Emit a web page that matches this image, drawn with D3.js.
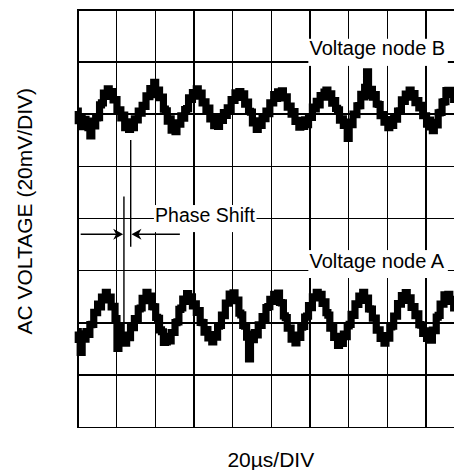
<!DOCTYPE html>
<html>
<head>
<meta charset="utf-8">
<script src="https://cdn.jsdelivr.net/npm/d3@7"></script>
<style>
  html, body { margin: 0; padding: 0; background: #fff; }
  svg { display: block; }
  text { font-family: "Liberation Sans", Arial, Helvetica, sans-serif; fill: #000; }
</style>
</head>
<body>
<svg id="chart" width="454" height="470"></svg>
<script>
// ---------- data (time in µs, voltage in mV) ----------
const xDivisions = [0, 20, 40, 60, 80, 100, 120, 140, 160, 180, 200];   // 20 µs/DIV
const yDivisions = [-80, -60, -40, -20, 0, 20, 40, 60, 80];             // 20 mV/DIV
const sampleStepUs = 1;

const nodeB = [41,37.3,38.3,35,37.8,35.4,34.6,31.5,
  37.1,35.3,38.4,38.5,43.4,44.1,47.9,46.6,49.5,
  46.7,48.5,45.3,45.4,41.2,41.5,38.4,39.4,34.6,36.9,34,
  36.6,34.6,38,37.6,41,40.2,43.2,42.8,46.8,46.5,49.6,47.7,52,
  47.3,49,46.1,46.3,41.7,41.1,37.1,38,33.7,35.6,
  33.1,36.5,36,39.2,38.3,41.6,41.9,46.1,45.5,48.1,46.8,49.5,
  46.7,47.9,44.1,44.5,41.5,42.1,38,38.3,35.4,37.5,
  35.1,38.1,37.4,40.4,39.3,42.2,41.6,45.4,45.1,48,46.2,48.5,
  46.3,47.6,43.6,44.4,40.9,40.6,36.5,37.2,34,
  37.1,35.5,38.9,38.1,41,40,44.1,44.1,47.3,45.8,48.4,
  46.5,48.7,46,46.4,42.5,42.9,39.8,40.8,37,37.4,34.8,37,
  35.1,37.6,35.8,38.8,38.6,42.5,41.8,44.7,43.4,46.9,46.3,48.3,49,
  46.3,47.6,44,45,42,41.5,37.5,38,35.5,36.7,30.5,
  36.8,35.8,39.8,39.6,43,43.1,47.4,46.4,50.1,56,
  46.9,49.3,46.3,47.3,43.7,43.5,39.2,39.6,36.7,37.7,34.6,
  37,35.5,38.9,37.9,41,41.1,45.3,44.7,47.5,46.3,49,
  46.3,47.7,44.2,45,42.2,43.2,39.2,39.2,36,37.5,34.9,33.5,
  36.7,35.7,40.3,40.5,44.4,44.6,48.8,48.9,
  47.4,48.9,45.5,46.5];

const nodeA = [-43.5,-46.5,-51.5,
  -44.4,-46.4,-43.5,-44.6,-40.9,-40.8,-36.2,-36.3,-33,-34.1,-30.3,-31.4,-28.5,
  -31.2,-30.3,-34.1,-33.9,-38.6,-50,-42,-46,-45.2,
  -48,-44.9,-45.9,-41.9,-42,-38.6,-38.8,-34.8,-34.5,-30.8,-31.7,-28.5,
  -31.1,-29.9,-34,-34.1,-38.1,-38.5,-42.9,-43.6,-47.7,-47.5,
  -45.4,-47.1,-43.9,-43.9,-40.1,-39.8,-35,-34.5,-31.1,-32,-29,
  -31.6,-30.2,-33.7,-32.9,-36.2,-35.5,-40,-40.1,-43.8,-42.8,-46,-44.7,-47.5,
  -44.7,-45.7,-41.5,-41.2,-37.2,-37.4,-32.6,-32.6,-29.2,-30.5,
  -28.7,-31.7,-31.5,-36.5,-37.1,-41.2,-41.5,-45.7,-54,
  -44.5,-46.6,-43.9,-44.8,-41,-41.2,-37.8,-38.5,-34.3,-34,-31.2,-32,-29.3,-30.5,
  -28.8,-32.4,-32.5,-37.5,-38.2,-42.2,-42.2,-46.4,-45.3,
  -47.9,-44.9,-45.8,-41.8,-41.6,-38,-37.6,-33.6,-34.4,-30.2,-30.5,-28.5,
  -30.6,-29.3,-32.7,-32.1,-36.3,-37.2,-42.2,-42,-45.8,-45.4,-48.8,
  -46.5,-48.1,-44.5,-45.5,-41.4,-40.8,-36.9,-37.3,-32.9,-33.1,-29.9,-30.7,
  -28.5,-31.6,-30.7,-34.8,-34.9,-38.4,-38.4,-43,-42.9,-46.2,-45.2,-48,
  -45.1,-46.1,-41.7,-41.5,-37.6,-37.6,-32.8,-33,-29.7,-31,
  -28.6,-31.6,-30.6,-34.3,-34,-37.4,-36.7,-40.9,-41.1,-44.2,-43.3,-46.2,-45,
  -46.8,-43,-43.2,-38,-37.3,-33,-33,-29.5,-31,
  -29.3,-32,-31.2,-34.5,-34];

// annotations (data units)
const phaseMarkA = { t: 24.1, from: 8.2, to: -46 };    // µs, mV
const phaseMarkB = { t: 27.6, from: 29.9, to: -11 };
const arrowLevel = -6.25;                               // mV
const arrowTailsUs = [1.75, 53];
const labels = [
  { text: "Voltage node B", t: 120.0, v: 62.6, boxT: [119.4, 191.5], boxV: [68.7, 58.3], size: 20 },
  { text: "Voltage node A", t: 120.0, v: -19.3, boxT: [119.4, 191.5], boxV: [-12.3, -23.0], size: 20 },
  { text: "Phase Shift", t: 40.2, v: -1.4, boxT: [39.6, 92.6], boxV: [4.97, -5.4], size: 19.5 }
];
const xTitle = "20µs/DIV";
const yTitle = "AC VOLTAGE (20mV/DIV)";

// ---------- scales ----------
const svg = d3.select("#chart");
const x = d3.scaleLinear().domain([0, 200]).range([77.3, 464.3]);
const y = d3.scaleLinear().domain([-80, 80]).range([426.7, 9.3]);
const plotH = y(-80) - y(80);
const plotW = x(200) - x(0);

// ---------- grid via axes ----------
const gx = svg.append("g").attr("transform", `translate(0,${y(-80)})`)
  .call(d3.axisBottom(x).tickValues(xDivisions).tickSize(-plotH).tickFormat(""));
const gy = svg.append("g").attr("transform", `translate(${x(0)},0)`)
  .call(d3.axisLeft(y).tickValues(yDivisions).tickSize(-plotW).tickFormat(""));
[gx, gy].forEach(g => {
  g.select(".domain").remove();
  g.selectAll(".tick line").attr("stroke", "#000").attr("stroke-width", 1.4).attr("shape-rendering", "crispEdges");
});

// ---------- white label boxes ----------
svg.append("g").selectAll("rect").data(labels).join("rect")
  .attr("x", d => x(d.boxT[0]))
  .attr("y", d => y(d.boxV[0]))
  .attr("width", d => x(d.boxT[1]) - x(d.boxT[0]))
  .attr("height", d => y(d.boxV[1]) - y(d.boxV[0]))
  .attr("fill", "#fff");

// ---------- traces ----------
const line = d3.line()
  .x((d, i) => x(i * sampleStepUs))
  .y(d => y(d))
  .curve(d3.curveStep);
[nodeB, nodeA].forEach(series => {
  svg.append("path")
    .attr("d", line(series))
    .attr("fill", "none")
    .attr("stroke", "#000")
    .attr("stroke-width", 7.2)
    .attr("stroke-linejoin", "miter")
    .attr("stroke-linecap", "butt");
});

// ---------- phase shift markers ----------
[phaseMarkA, phaseMarkB].forEach(m => {
  svg.append("line")
    .attr("x1", x(m.t)).attr("x2", x(m.t))
    .attr("y1", y(m.from)).attr("y2", y(m.to))
    .attr("stroke", "#000").attr("stroke-width", 1.4);
});
const tips = [phaseMarkA.t, phaseMarkB.t];
arrowTailsUs.forEach((tail, i) => {
  const tipX = x(tips[i]) + (i === 0 ? -0.8 : 0.8);
  const yy = y(arrowLevel);
  const dir = i === 0 ? 1 : -1;
  svg.append("line")
    .attr("x1", x(tail)).attr("x2", tipX - dir * 6)
    .attr("y1", yy).attr("y2", yy)
    .attr("stroke", "#000").attr("stroke-width", 1.4);
  const L = 10, W = 5.5, N = 3;
  svg.append("path")
    .attr("d", `M${tipX},${yy} L${tipX - dir * L},${yy - W} L${tipX - dir * (L - N)},${yy} L${tipX - dir * L},${yy + W} Z`)
    .attr("fill", "#000");
});

// ---------- labels ----------
svg.append("g").selectAll("text").data(labels).join("text")
  .attr("x", d => x(d.t))
  .attr("y", d => y(d.v))
  .attr("font-size", d => d.size)
  .text(d => d.text);

svg.append("text")
  .attr("x", x(100))
  .attr("y", 466.5)
  .attr("text-anchor", "middle")
  .attr("font-size", 21)
  .text(xTitle);

svg.append("text")
  .attr("transform", `translate(32,${y(2.6)}) rotate(-90)`)
  .attr("text-anchor", "middle")
  .attr("font-size", 21)
  .text(yTitle);
</script>
</body>
</html>
